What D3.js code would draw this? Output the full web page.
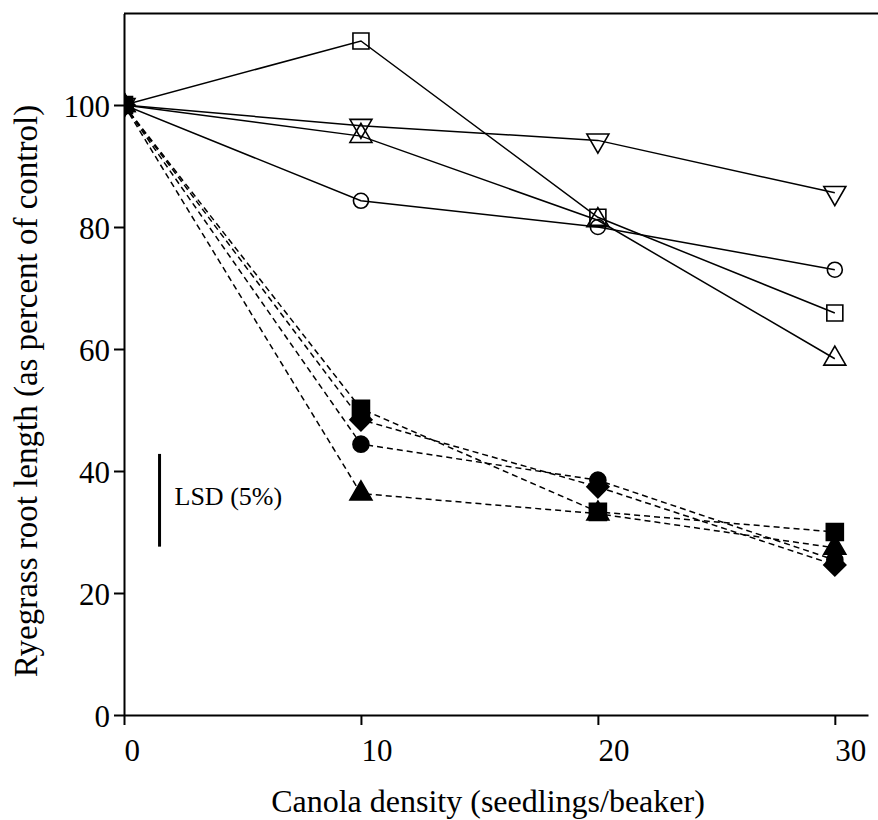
<!DOCTYPE html>
<html>
<head>
<meta charset="utf-8">
<script src="https://cdn.jsdelivr.net/npm/d3@7"></script>
<style>
  body { margin: 0; background: #fff; }
  svg { display: block; }
</style>
</head>
<body>
<div id="chart"></div>
<script>
// canola density (seedlings/beaker)
const densities = [0, 10, 20, 30];

// open symbols, solid lines
const openSquare = [100, 110.5, 81.6, 65.9];
const openDown   = [100, 96.6, 94.2, 85.6];
const openUp     = [100, 94.9, 81.1, 58.4];
const openCircle = [100, 84.3, 80.0, 73.0];

// filled symbols, dashed lines
const filledSquare  = [100, 50.2, 33.3, 30.0];
const filledDiamond = [100, 48.4, 37.4, 24.6];
const filledCircle  = [100, 44.4, 38.5, 25.4];
const filledUp      = [100, 36.3, 33.0, 27.4];

const xTicks = [0, 10, 20, 30];
const yTicks = [0, 20, 40, 60, 80, 100];

// LSD bar: x position and extent (% of control)
const lsdX = 1.5;
const lsdRange = [27.6, 42.8];
const lsdLabel = 'LSD (5%)';

const FONT = '"Liberation Serif", "Times New Roman", Times, serif';

const series = [
  { values: openSquare,    shape: 'square',   filled: false },
  { values: openDown,      shape: 'down',     filled: false },
  { values: openUp,        shape: 'up',       filled: false },
  { values: openCircle,    shape: 'circle',   filled: false },
  { values: filledSquare,  shape: 'square',   filled: true },
  { values: filledDiamond, shape: 'diamond',  filled: true },
  { values: filledCircle,  shape: 'circle',   filled: true },
  { values: filledUp,      shape: 'up',       filled: true }
];

const width = 878, height = 820;
const svg = d3.select('#chart').append('svg')
  .attr('width', width).attr('height', height)
  .attr('font-family', FONT);

const x = d3.scaleLinear().domain([0, 31.4]).range([124, 868]);
const y = d3.scaleLinear().domain([0, 115]).range([715, 13.5]);

// clip so markers at x=0 are cut at the axis
svg.append('defs').append('clipPath').attr('id', 'plot')
  .append('rect').attr('x', x(0)).attr('y', 0)
  .attr('width', width - x(0)).attr('height', y(0));

function shapePath(shape, filled) {
  if (shape === 'square') {
    const s = filled ? 8.5 : 8;
    return `M${-s},${-s}H${s}V${s}H${-s}Z`;
  }
  if (shape === 'circle') {
    const r = filled ? 8 : 7.5;
    return `M${r},0A${r},${r} 0 1,1 ${-r},0A${r},${r} 0 1,1 ${r},0Z`;
  }
  if (shape === 'diamond') {
    const a = 11;
    return `M0,${-a}L${a},0L0,${a}L${-a},0Z`;
  }
  const side = 22, h = side * Math.sqrt(3) / 2;
  const k = shape === 'up' ? 1 : -1;
  return `M0,${-k * 2 * h / 3}L${side / 2},${k * h / 3}L${-side / 2},${k * h / 3}Z`;
}

const plot = svg.append('g').attr('clip-path', 'url(#plot)');

const line = d3.line()
  .x((d, i) => x(densities[i]))
  .y(d => y(d));

// lines first
plot.selectAll('path.series')
  .data(series)
  .join('path')
  .attr('class', 'series')
  .attr('d', d => line(d.values))
  .attr('fill', 'none')
  .attr('stroke', '#000')
  .attr('stroke-width', 1.5)
  .attr('stroke-dasharray', d => d.filled ? '6,4' : null);

// markers
series.forEach(s => {
  plot.append('g').selectAll('path')
    .data(s.values)
    .join('path')
    .attr('transform', (d, i) => `translate(${x(densities[i])},${y(d)})`)
    .attr('d', shapePath(s.shape, s.filled))
    .attr('fill', s.filled ? '#000' : 'none')
    .attr('stroke', '#000')
    .attr('stroke-width', 1.6);
});

// axes
const xAxis = svg.append('g')
  .attr('transform', `translate(0,${y(0)})`)
  .call(d3.axisBottom(x).tickValues(xTicks).tickSize(10).tickSizeOuter(0).tickFormat(d3.format('d')));
xAxis.selectAll('text')
  .attr('text-anchor', 'start')
  .attr('y', 46).attr('dy', 0);

const yAxis = svg.append('g')
  .attr('transform', `translate(${x(0)},0)`)
  .call(d3.axisLeft(y).tickValues(yTicks).tickSize(10).tickPadding(4).tickSizeOuter(0).tickFormat(d3.format('d')));
yAxis.selectAll('text')
  .attr('dy', '0.37em');

[xAxis, yAxis].forEach(a => {
  a.attr('font-family', FONT).attr('font-size', 31);
  a.selectAll('text').attr('font-family', FONT).attr('font-size', 31).attr('fill', '#000');
  a.selectAll('path, line').attr('stroke', '#000').attr('stroke-width', 2);
});

// top frame line
svg.append('line')
  .attr('x1', x(0)).attr('x2', width)
  .attr('y1', y(115)).attr('y2', y(115))
  .attr('stroke', '#000').attr('stroke-width', 2);

// LSD bar
svg.append('line')
  .attr('x1', x(lsdX)).attr('x2', x(lsdX))
  .attr('y1', y(lsdRange[0])).attr('y2', y(lsdRange[1]))
  .attr('stroke', '#000').attr('stroke-width', 3);
svg.append('text')
  .attr('x', x(lsdX) + 15)
  .attr('y', y((lsdRange[0] + lsdRange[1]) / 2) + 5)
  .attr('font-size', 26)
  .text(lsdLabel);

// axis titles
svg.append('text')
  .attr('x', (x(0) + 852) / 2).attr('y', 812)
  .attr('text-anchor', 'middle')
  .attr('font-size', 32)
  .text('Canola density (seedlings/beaker)');

svg.append('text')
  .attr('transform', `translate(37,${391}) rotate(-90)`)
  .attr('text-anchor', 'middle')
  .attr('font-size', 33)
  .text('Ryegrass root length (as percent of control)');
</script>
</body>
</html>
